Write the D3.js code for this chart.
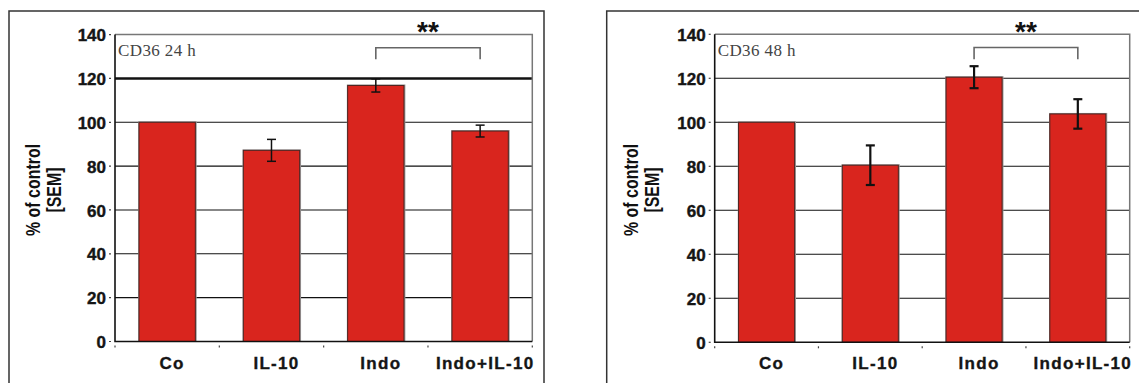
<!DOCTYPE html>
<html>
<head>
<meta charset="utf-8">
<script src="https://cdn.jsdelivr.net/npm/d3@7"></script>
<style>
  html, body { margin: 0; padding: 0; background: #fff; }
  svg { display: block; }
</style>
</head>
<body>
<svg id="chart" width="1139" height="383"></svg>
<script>
// Treatment groups on the x axis
const categories = ["Co", "IL-10", "Indo", "Indo+IL-10"];

// CD36 expression, % of control, 24 h
const mean24 = [100, 87.2, 116.8, 96.0];
const sem24  = [0, 5.0, 3.0, 2.7];

// CD36 expression, % of control, 48 h
const mean48 = [100, 80.5, 120.5, 103.8];
const sem48  = [0, 9.0, 5.0, 6.7];

// y axis ticks
const yTicks = [0, 20, 40, 60, 80, 100, 120, 140];

// significance bracket between Indo and Indo+IL-10
const sigPair = ["Indo", "Indo+IL-10"];
const sigMark = "**";
const bracketTop = 134;
const bracketFoot = 128.7;

const panelTitles = ["CD36 24 h", "CD36 48 h"];

// panel geometry
const panels = [
  { frameX: 9,     frameR: 544,  plotL: 115,   plotR: 532.3,  plotT: 34.6, plotB: 341.5,
    title: panelTitles[0], means: mean24, sems: sem24, heavyGrid: 120, errW: 1.5 },
  { frameX: 606.7, frameR: 1142, plotL: 714.7, plotR: 1129.7, plotT: 34.3, plotB: 342.3,
    title: panelTitles[1], means: mean48, sems: sem48, heavyGrid: null, errW: 2.2 }
];

const svg = d3.select("#chart");
const SANS = "'Liberation Sans', Arial, Helvetica, sans-serif";
const SERIF = "'Liberation Serif', 'Times New Roman', serif";

panels.forEach(p => {
  const g = svg.append("g");

  const x = d3.scaleBand()
    .domain(categories)
    .range([p.plotL, p.plotR])
    .paddingInner(0.46)
    .paddingOuter(0.23);

  const y = d3.scaleLinear()
    .domain([0, 140])
    .range([p.plotB, p.plotT]);

  // outer frame (left, top, right)
  g.append("path")
    .attr("d", `M${p.frameX},390 V11 H${p.frameR} V390`)
    .attr("fill", "none")
    .attr("stroke", "#333")
    .attr("stroke-width", 1.5);

  // horizontal grid
  g.append("g").selectAll("line")
    .data(yTicks.filter(t => t > 0 && t < 140))
    .join("line")
    .attr("x1", p.plotL).attr("x2", p.plotR)
    .attr("y1", d => y(d)).attr("y2", d => y(d))
    .attr("stroke", "#111")
    .attr("stroke-width", d => d === p.heavyGrid ? 2.6 : 1.1);

  // plot border: top and right in grey
  g.append("path")
    .attr("d", `M${p.plotL},${y(140)} H${p.plotR} V${y(0)}`)
    .attr("fill", "none")
    .attr("stroke", "#777")
    .attr("stroke-width", 1.5);

  // bars: grey halo then red body
  const bars = g.append("g");
  bars.selectAll("rect.halo")
    .data(categories)
    .join("rect")
    .attr("class", "halo")
    .attr("x", d => x(d) - 0.8)
    .attr("y", (d, i) => y(p.means[i]) - 1)
    .attr("width", x.bandwidth() + 2.2)
    .attr("height", (d, i) => y(0) - y(p.means[i]) + 1)
    .attr("fill", "#9a9a9a");
  bars.selectAll("rect.bar")
    .data(categories)
    .join("rect")
    .attr("class", "bar")
    .attr("x", d => x(d))
    .attr("y", (d, i) => y(p.means[i]))
    .attr("width", x.bandwidth())
    .attr("height", (d, i) => y(0) - y(p.means[i]))
    .attr("fill", "#d9251e")
    .attr("stroke", "#4e2420")
    .attr("stroke-width", 1);

  // error bars (SEM)
  const eb = g.append("g")
    .attr("stroke", "#111")
    .attr("stroke-width", p.errW)
    .attr("fill", "none");
  categories.forEach((c, i) => {
    const s = p.sems[i];
    if (!s) return;
    const cx = x(c) + x.bandwidth() / 2;
    const hi = y(p.means[i] + s), lo = y(p.means[i] - s);
    eb.append("line").attr("x1", cx).attr("x2", cx).attr("y1", hi).attr("y2", lo);
    eb.append("line").attr("x1", cx - 4.5).attr("x2", cx + 4.5).attr("y1", hi).attr("y2", hi);
    eb.append("line").attr("x1", cx - 4.5).attr("x2", cx + 4.5).attr("y1", lo).attr("y2", lo);
  });

  // axes lines: left and bottom in black
  g.append("path")
    .attr("d", `M${p.plotL},${y(140)} V${y(0)} H${p.plotR}`)
    .attr("fill", "none")
    .attr("stroke", "#111")
    .attr("stroke-width", 1.6);

  // y axis labels
  const yAxis = d3.axisLeft(y).tickValues(yTicks).tickSize(0).tickPadding(9);
  const ya = g.append("g").attr("transform", `translate(${p.plotL},0)`).call(yAxis);
  ya.select(".domain").remove();
  ya.selectAll("text")
    .attr("font-family", SANS)
    .attr("font-weight", "bold")
    .attr("font-size", 17)
    .attr("fill", "#151515")
    .attr("stroke", "#151515")
    .attr("stroke-width", 0.4)
    .attr("dy", "0.36em");
  // tiny tick dots
  g.append("g").selectAll("line")
    .data(yTicks)
    .join("line")
    .attr("x1", p.plotL - 6).attr("x2", p.plotL - 4)
    .attr("y1", d => y(d)).attr("y2", d => y(d))
    .attr("stroke", "#444").attr("stroke-width", 1.2);

  // x axis category labels
  const xAxis = d3.axisBottom(x).tickSize(0).tickPadding(15);
  const xa = g.append("g").attr("transform", `translate(0,${y(0)})`).call(xAxis);
  xa.select(".domain").remove();
  xa.selectAll("text")
    .attr("font-family", SANS)
    .attr("font-weight", "bold")
    .attr("font-size", 17)
    .attr("letter-spacing", "1.3px")
    .attr("fill", "#151515")
    .attr("stroke", "#151515")
    .attr("stroke-width", 0.35)
    .attr("dx", 5)
    .attr("dy", "0.71em");
  // tiny dots at category boundaries
  const step = x.step();
  g.append("g").selectAll("line")
    .data(d3.range(categories.length + 1))
    .join("line")
    .attr("x1", k => p.plotL + k * step)
    .attr("x2", k => p.plotL + k * step)
    .attr("y1", y(0) + 4).attr("y2", y(0) + 6)
    .attr("stroke", "#444").attr("stroke-width", 1.2);

  // y axis title
  const yt = g.append("g").attr("transform", `translate(${p.frameX},190) rotate(-90)`);
  yt.append("text")
    .attr("transform", "scale(0.76,1)")
    .attr("x", 0).attr("y", 31)
    .attr("text-anchor", "middle")
    .attr("font-family", SANS).attr("font-weight", "bold").attr("font-size", 21)
    .attr("fill", "#111")
    .text("% of control");
  yt.append("text")
    .attr("transform", "scale(0.76,1)")
    .attr("x", 0).attr("y", 52)
    .attr("text-anchor", "middle")
    .attr("font-family", SANS).attr("font-weight", "bold").attr("font-size", 21)
    .attr("fill", "#111")
    .text("[SEM]");

  // panel title
  g.append("text")
    .attr("x", p.plotL + 3)
    .attr("y", 56)
    .attr("font-family", SERIF)
    .attr("font-size", 17)
    .attr("letter-spacing", "0.4px")
    .attr("fill", "#444")
    .text(p.title);

  // significance bracket
  const xa1 = x(sigPair[0]) + x.bandwidth() / 2;
  const xa2 = x(sigPair[1]) + x.bandwidth() / 2;
  g.append("path")
    .attr("d", `M${xa1},${y(bracketFoot)} V${y(bracketTop)} H${xa2} V${y(bracketFoot)}`)
    .attr("fill", "none")
    .attr("stroke", "#666")
    .attr("stroke-width", 1.6);
  g.append("text")
    .attr("x", (xa1 + xa2) / 2)
    .attr("y", 41)
    .attr("text-anchor", "middle")
    .attr("font-family", SANS)
    .attr("font-weight", "bold")
    .attr("font-size", 28)
    .attr("fill", "#111")
    .text(sigMark);
});
</script>
</body>
</html>
